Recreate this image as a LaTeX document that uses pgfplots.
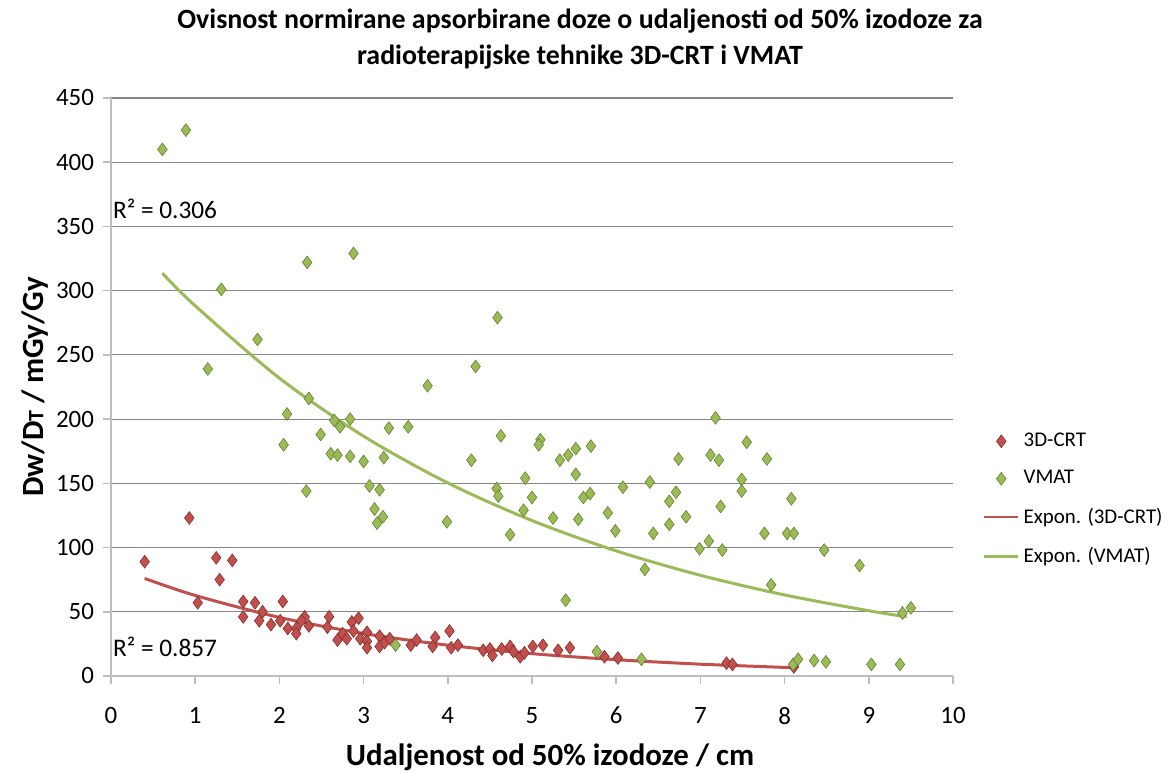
\documentclass[border=0pt]{standalone}
\usepackage{fontspec}
\setmainfont{Carlito}
\usepackage{pgfplots}
\pgfplotsset{compat=1.18}
\usepackage{pgfplotstable}

\definecolor{crtRed}{RGB}{192,80,77}
\definecolor{crtRedDk}{RGB}{140,45,42}
\definecolor{vmatGreen}{RGB}{155,187,89}
\definecolor{vmatGreenDk}{RGB}{100,130,45}
\definecolor{gridGray}{RGB}{134,134,134}
\definecolor{axGray}{RGB}{190,190,190}

% 3D-CRT
\pgfplotstableread{
x y
0.40 89
0.93 123
1.25 92
1.44 90
1.29 75
1.03 57
1.57 58
1.71 57
2.04 58
1.57 46
1.76 43
1.80 50
1.90 40
2.01 43
2.10 37
2.20 37
2.20 33
2.30 46
2.35 39
2.26 43
2.59 46
2.57 38
2.75 33
2.86 42
2.94 45
2.69 28
2.80 29
2.88 35
2.96 29
3.04 34
3.04 27
3.04 22
3.19 31
3.19 23
3.25 26
3.31 29
3.56 24
3.63 28
3.82 23
3.85 30
4.02 35
4.04 22
4.12 24
4.42 20
4.50 21
4.53 16
4.64 21
4.74 23
4.78 19
4.86 15
4.91 18
5.01 23
5.13 24
5.31 20
5.45 22
5.86 15
6.02 14
7.31 10
7.38 9
8.11 7
}\crt

% VMAT
\pgfplotstableread{
x y
0.61 410
0.89 425
1.31 301
1.74 262
2.33 322
2.88 329
4.59 279
1.15 239
2.35 216
2.09 204
2.65 199
2.72 194
2.84 200
3.30 193
2.49 188
2.05 180
2.61 173
2.69 172
2.84 171
3.00 167
3.24 170
2.32 144
3.07 148
3.19 145
3.13 130
3.23 124
3.16 119
4.33 241
3.76 226
3.53 194
4.63 187
5.10 184
5.08 180
5.52 177
5.70 179
5.43 172
5.33 168
4.28 168
6.74 169
5.52 157
4.92 154
6.40 151
6.08 147
4.58 146
4.60 140
5.69 142
5.61 139
6.71 143
6.63 136
5.00 139
4.90 129
5.25 123
5.55 122
5.90 127
6.83 124
3.99 120
4.74 110
5.99 113
6.44 111
6.63 118
6.34 83
5.40 59
5.77 19
6.30 13
3.38 24
7.18 201
7.55 182
7.12 172
7.22 168
7.79 169
7.49 153
7.49 144
8.08 138
7.24 132
7.76 111
8.03 111
8.11 111
6.99 99
7.10 105
7.26 98
8.47 98
8.89 86
7.84 71
9.40 49
9.50 53
8.10 9
8.16 13
8.35 12
8.49 11
9.03 9
9.37 9
}\vmat

% exponential trend lines
\pgfplotstableread{
x y
0.4 76.0
1 62.7
2 45.6
3 33.1
4 24.0
5 17.4
6 12.7
7 9.2
8 6.7
8.1 6.5
}\crtfit

\pgfplotstableread{
x y
0.61 313.6
1 288.2
2 231.9
3 186.7
4 150.3
5 121.0
6 97.4
7 78.4
8 63.1
9 50.8
9.45 46.1
}\vmatfit

\begin{document}
\begin{tikzpicture}
\useasboundingbox (0,0) rectangle (583.5bp,386.5bp);
\begin{axis}[
  at={(55.5bp,48.5bp)}, anchor=south west,
  scale only axis, width=421bp, height=289bp,
  xmin=0, xmax=10, ymin=0, ymax=450,
  xtick={0,1,...,10}, ytick={0,50,...,450},
  axis x line*=bottom, axis y line*=left,
  axis line style={axGray, line width=0.9bp, -},
  ymajorgrids, grid style={gridGray, line width=0.6bp},
  tick align=outside, major tick length=4bp,
  tick style={axGray, line width=0.8bp},
  tick label style={font=\fontsize{12.5}{13}\selectfont},
  /pgf/number format/assume math mode=true,
  xticklabel style={yshift=-8bp},
  yticklabel style={xshift=-1bp},
  legend style={at={(1.035,0.428)}, anchor=north west, draw=none, fill=none,
    font=\fontsize{10.5}{12}\selectfont, row sep=6.5bp,
    inner sep=0pt, cells={anchor=west}},
  legend image post style={line width=1.4bp},
  clip=false,
]
\addplot[only marks, mark=diamond*, mark size=3.2bp,
  mark options={fill=crtRed, draw=crtRedDk, line width=0.3bp}] table {\crt};
\addlegendentry{3D-CRT}
\addplot[only marks, mark=diamond*, mark size=3.2bp,
  mark options={fill=vmatGreen, draw=vmatGreenDk, line width=0.3bp}] table {\vmat};
\addlegendentry{VMAT}
\addplot[crtRed, line width=1.5bp, smooth, no marks] table {\crtfit};
\addlegendentry{Expon. (3D-CRT)}
\addplot[vmatGreen, line width=1.5bp, smooth, no marks] table {\vmatfit};
\addlegendentry{Expon. (VMAT)}
\node[anchor=west, inner sep=0pt, font=\fontsize{12.7}{13}\selectfont]
  at (axis cs:0.02,364) {R² = 0.306};
\node[anchor=west, inner sep=0pt, font=\fontsize{12.7}{13}\selectfont]
  at (axis cs:0.02,23) {R² = 0.857};
\end{axis}
\node[align=center, font=\bfseries\fontsize{14}{18.5}\selectfont]
  at (290bp,367bp) {Ovisnost normirane apsorbirane doze o udaljenosti od 50\% izodoze za\\radioterapijske tehnike 3D-CRT i VMAT};
\node[font=\bfseries\fontsize{15.5}{16}\selectfont] at (275bp,8bp)
  {Udaljenost od 50\% izodoze / cm};
\node[rotate=90, font=\bfseries\fontsize{15.5}{16}\selectfont] at (17.5bp,193bp)
  {Dw/D{\fontsize{11}{11}\selectfont T} / mGy/Gy};
\end{tikzpicture}
\end{document}
